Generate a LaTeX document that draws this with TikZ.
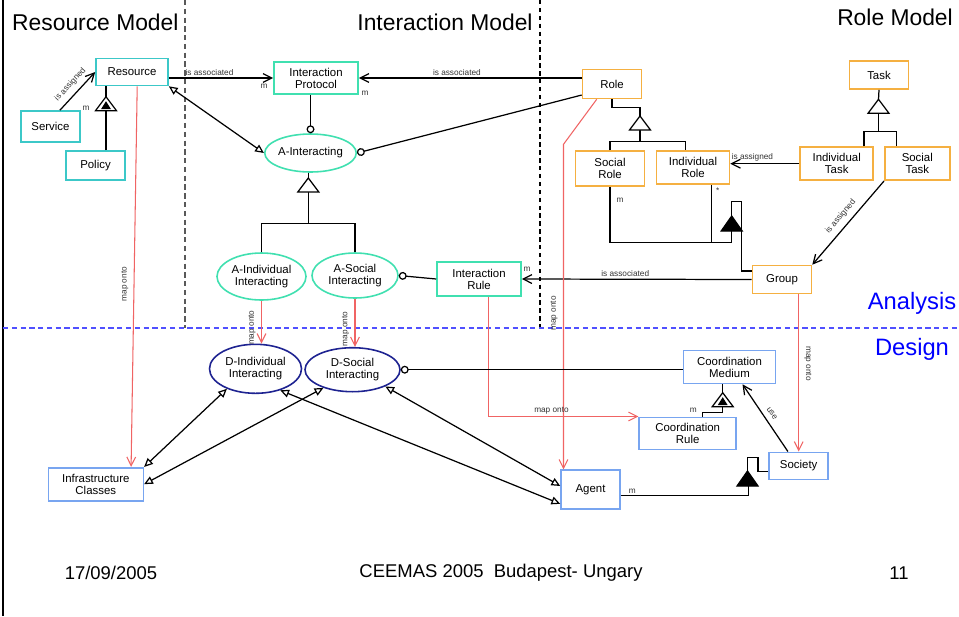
\documentclass[tikz,border=0pt]{standalone}
\usepackage{fontspec}
\setmainfont{Liberation Sans}
\usetikzlibrary{arrows.meta,shapes.geometric}

\definecolor{resblue}{RGB}{60,200,200}
\definecolor{intgreen}{RGB}{64,224,176}
\definecolor{roleorange}{RGB}{245,176,65}
\definecolor{desblue}{RGB}{120,165,240}
\definecolor{desnavy}{RGB}{30,35,145}
\definecolor{mapred}{RGB}{240,100,100}
\definecolor{splitblue}{RGB}{80,80,255}
\newcommand{\boxfont}{\fontsize{6.5}{6.9}\selectfont}
\newcommand{\lblfont}{\fontsize{4.7}{5}\selectfont}
\newcommand{\titlefont}{\fontsize{13}{15}\selectfont}
\newcommand{\phasefont}{\fontsize{13.5}{15}\selectfont}
\newcommand{\footfont}{\fontsize{10.5}{12}\selectfont}
\newcommand{\opentri}[1]{\draw[conn, fill=white] (#1) -- ++(-10.5,14) -- ++(21,0) -- cycle;}
\newcommand{\solidtri}[1]{\draw[conn, fill=black] (#1) -- ++(-10.5,15) -- ++(21,0) -- cycle;}
\newcommand{\innertri}[1]{\opentri{#1}\fill (#1) ++(0,4.5) -- ++(-5,8) -- ++(10,0) -- cycle;}

\tikzset{
  wh/.style 2 args={minimum width=#1*0.02cm, minimum height=#2*0.02cm},
  rbox/.style={draw=resblue, line width=0.9pt, inner sep=0pt, align=center, font=\boxfont},
  ibox/.style={rbox, draw=intgreen},
  iell/.style={ibox, ellipse},
  obox/.style={rbox, draw=roleorange},
  dbox/.style={rbox, draw=desblue},
  dell/.style={rbox, ellipse, draw=desnavy},
  conn/.style={line width=0.7pt},
  arr/.style={conn, -{Straight Barb[length=5pt,width=5pt]}},
  dbl/.style={conn, {Triangle[open,length=5pt,width=4.5pt]}-{Triangle[open,length=5pt,width=4.5pt]}},
  circ/.style={conn, -{Circle[open,length=4.5pt]}},
  maparr/.style={arr, draw=mapred, line width=0.6pt},
  lbl/.style={font=\lblfont, inner sep=1pt, text=black!80}
}

\begin{document}
\begin{tikzpicture}[x=0.02cm, y=-0.02cm]
\path[use as bounding box, fill=white] (0,0) rectangle (959,616);

\draw[line width=1.2pt] (3,0) -- (3,616);
\draw[gray!70!black, dash pattern=on 3pt off 2pt, line width=0.6pt] (185,0) -- (185,328);
\draw[dash pattern=on 2.5pt off 2pt, line width=0.6pt] (540,0) -- (540,328);
\draw[splitblue, dash pattern=on 3pt off 2pt, line width=0.7pt] (3,328) -- (959,328);

\node[anchor=west, font=\titlefont] (tres) at (6,22) {Resource Model};
\node[font=\titlefont] (tint) at (445,22) {Interaction Model};
\node[font=\titlefont] (trole) at (895,17) {Role Model};
\node[font=\phasefont, text=blue] (tana) at (912,303) {Analysis};
\node[font=\phasefont, text=blue] (tdes) at (912,349) {Design};
\node[font=\footfont] (fdate) at (111,573) {17/09/2005};
\node[font=\footfont] (fconf) at (501,573) {CEEMAS 2005~ Budapest- Ungary};
\node[font=\footfont] (fpage) at (899,573) {11};

\node[rbox, wh={72}{27}] (res) at (132,72) {Resource};
\node[rbox, wh={59}{31}] (serv) at (50.5,126.5) {Service};
\node[rbox, wh={59}{29}] (pol) at (95.5,165.5) {Policy};

\node[ibox, wh={84}{32}] (ip) at (316,78) {Interaction\\Protocol};
\node[iell, wh={73}{38}] (aint) at (310.5,153) {A-Interacting};
\node[iell, wh={89}{47}] (aind) at (261.5,276.5) {A-Individual\\Interacting};
\node[iell, wh={86}{45}] (asoc) at (355,275.5) {A-Social\\Interacting};
\node[ibox, wh={84}{34}] (irule) at (479,279) {Interaction\\Rule};

\node[obox, wh={59}{29}] (role) at (612,84) {Role};
\node[obox, wh={69}{35}] (srole) at (610,168.7) {Social\\Role};
\node[obox, wh={73}{33}] (irole) at (693,167.7) {Individual\\Role};
\node[obox, wh={59}{28}] (task) at (879,75) {Task};
\node[obox, wh={73}{33}] (itask) at (836.7,163.7) {Individual\\Task};
\node[obox, wh={65}{33}] (stask) at (917.3,163.7) {Social\\Task};
\node[obox, wh={59}{28}] (group) at (782,279.5) {Group};

\node[dbox, wh={95}{33}] (infra) at (95.8,484.2) {Infrastructure\\Classes};
\node[dell, wh={92}{49}] (dind) at (255.5,368.8) {D-Individual\\Interacting};
\node[dell, wh={95}{44}] (dsoc) at (352.5,369.7) {D-Social\\Interacting};
\node[dbox, wh={92}{33}] (cmed) at (729.5,367) {Coordination\\Medium};
\node[dbox, wh={97}{32}] (crule) at (687.7,433.3) {Coordination\\Rule};
\node[dbox, wh={59}{27}] (soc) at (798.7,465.8) {Society};
\node[dbox, wh={59}{39}] (agent) at (590.5,489.7) {Agent};

\coordinate (aggP) at (106,96.7);
\coordinate (genA) at (308.3,178);
\coordinate (forkA) at (308.3,223.3);
\coordinate (genR) at (640,116);
\coordinate (forkR) at (640,141.7);
\coordinate (genT) at (878.5,99.3);
\coordinate (forkT) at (878.5,131.7);
\coordinate (aggR) at (731.7,216);
\coordinate (joinR) at (731.7,242.3);
\coordinate (bendR) at (563.5,144.3);
\coordinate (aggC) at (722.7,392.7);
\coordinate (aggS) at (747.5,471);

\draw[arr] (serv.60) -- (res.west) node[lbl, midway, sloped, above=2pt] {is assigned};
\node[lbl] (mpol) at (86,108) {m};
\draw[conn] (pol.north -| aggP) -- (aggP);
\draw[conn] (aggP) -- (aggP |- res.south);
\innertri{aggP}
\draw[arr] (res.east |- ip.west) -- (ip.west) node[lbl, pos=0.39, above] {is associated};
\node[lbl] (mres) at (264,86) {m};
\draw[arr] (ip.east -| role.west) -- (ip.east) node[lbl, pos=0.56, above] {is associated};
\node[lbl] (mip) at (365,93) {m};
\draw[circ] (role.200) -- (aint.east);
\draw[circ] (ip.south -| aint.north) -- (aint.north);
\draw[dbl] (res.south east) -- (aint.west);
\draw[maparr] (res.290) -- ([xshift=-0.26cm]infra.north east) node[lbl, pos=0.52, rotate=90, above=2pt] {map onto};

\draw[conn] (aint.south -| genA) -- (genA);
\draw[conn] (genA) ++(0,14) -- (forkA);
\draw[conn] (aind.north) |- (forkA) -| (asoc.north);
\opentri{genA}
\draw[maparr] (aind.south) -- (aind.south |- dind.north) node[lbl, pos=0.63, rotate=90, above=2pt] {map onto};
\draw[maparr] (asoc.south) -- (asoc.south |- dsoc.north) node[lbl, pos=0.63, rotate=90, above=2pt] {map onto};
\draw[circ] (irule.west) -- (asoc.east);
\draw[arr] (group.west) -- (irule.east) node[lbl, pos=0.55, above] {is associated};
\node[lbl] (mir) at (527,269) {m};

\draw[conn] (role.south) -- ++(0,8.2) -| (genR);
\draw[conn] (genR) ++(0,14) -- (forkR);
\draw[conn] (srole.north) |- (forkR) -| ([xshift=-0.15cm]irole.north);
\opentri{genR}
\draw[conn] (task.south) -- (genT);
\draw[conn] (genT) ++(0,14) -- (forkT);
\draw[conn] ([xshift=-0.2cm]itask.north east) |- (forkT) -| ([xshift=0.25cm]stask.north west);
\opentri{genT}
\draw[arr] (itask.west) -- (itask.west -| irole.east) node[lbl, pos=0.68, above] {is assigned};
\draw[arr] (stask.south west) -- (group.north east) node[lbl, midway, sloped, above=2pt] {is assigned};

\draw[conn] (srole.south) |- (joinR);
\draw[conn] ([xshift=-0.37cm]irole.south east) -- ++(0,58.1);
\draw[conn] (joinR) -- ++(0,-11.3);
\draw[conn] ([yshift=0.17cm]group.west) -- ++(-10.3,0) -- ++(0,-69.3) -| (aggR);
\solidtri{aggR}
\node[lbl] (msr) at (620,200) {m};
\node[lbl] (sir) at (717.7,191) {*};

\draw[maparr] (role.225) -- (bendR) -- (bendR |- agent.north) node[lbl, pos=0.52, rotate=90, above=2pt] {map onto};
\draw[maparr] ([xshift=0.19cm]irule.south) |- (crule.north west) node[lbl, pos=0.71, above] {map onto};
\draw[maparr] (group.south -| soc.north) -- (soc.north) node[lbl, pos=0.44, rotate=-90, above=2pt] {map onto};

\draw[conn] ([xshift=0.29cm]crule.north) |- ++(20.4,-4) -- ++(0,-6);
\draw[conn] (aggC) -- (aggC |- cmed.south);
\innertri{aggC}
\node[lbl] (mcr) at (693.3,410.7) {m};
\draw[arr] ([xshift=0.39cm]soc.north west) -- ([xshift=0.26cm]cmed.south) node[lbl, midway, sloped, above=2pt] {use};
\draw[conn] ([yshift=-0.11cm]agent.east) -| ++(127.5,-9);
\draw[conn] (aggS) |- ++(10.6,-13.3) |- ([yshift=-0.12cm]soc.west);
\solidtri{aggS}
\node[lbl] (mag) at (632.3,491) {m};
\draw[circ] (dsoc.east -| cmed.west) -- (dsoc.east);

\draw[dbl] (infra.north east) -- (dind.215);
\draw[dbl] (infra.east) -- (dsoc.212);
\draw[dbl] (dind.319) -- (agent.205);
\draw[dbl] (dsoc.333) -- (agent.173);
\end{tikzpicture}
\end{document}
